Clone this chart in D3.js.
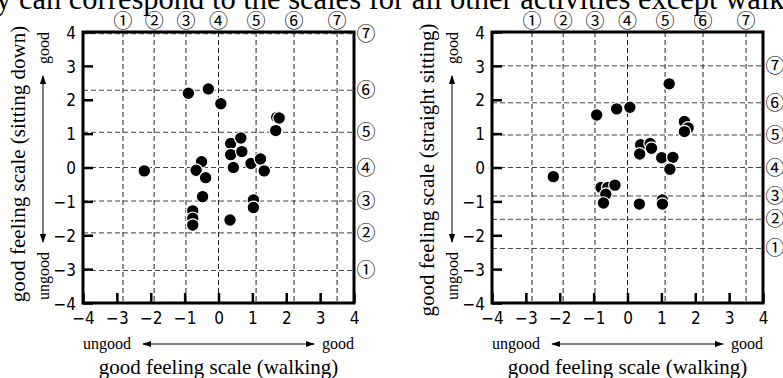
<!DOCTYPE html>
<html>
<head>
<meta charset="utf-8">
<script src="https://cdn.jsdelivr.net/npm/d3@7"></script>
<style>
  body { margin: 0; background: #fff; }
  svg { display: block; }
  .serif { font-family: "Liberation Serif", "DejaVu Serif", serif; fill: #000; }
  .tick text { font-family: "Liberation Sans Narrow", "DejaVu Sans Condensed", sans-serif; font-size: 17px; fill: #000; }
  .circ { font-family: "Noto Sans CJK JP", "DejaVu Sans", sans-serif; font-size: 19px; fill: #000; }
</style>
</head>
<body>
<svg id="chart" width="783" height="378"></svg>
<script>
'use strict';

// scale ticks shared by both axes
var axisTicks = [-4, -3, -2, -1, 0, 1, 2, 3, 4];
var levelLabels = ['①', '②', '③', '④', '⑤', '⑥', '⑦'];

// where the 7-step scales fall on the continuous scale
var walkLevels = [-2.82, -1.90, -0.96, 0, 1.11, 2.23, 3.50];
var sitDownLevels = [-3.04, -1.93, -0.99, 0, 1.04, 2.28, 3.95];
var straightLevels = [-2.39, -1.53, -0.84, 0, 0.96, 1.91, 3.00];

// [walking, sitting down]
var sitDownPoints = [
  [-2.19, -0.10], [-0.89, 2.19], [-0.30, 2.32], [0.07, 1.88],
  [1.72, 1.48], [1.79, 1.46], [1.69, 1.09],
  [0.36, 0.71], [0.66, 0.87], [0.36, 0.38], [0.69, 0.47],
  [-0.50, 0.17], [-0.66, -0.08], [0.44, 0.00], [0.96, 0.12],
  [1.24, 0.25], [1.35, -0.10], [-0.38, -0.30], [-0.47, -0.86],
  [1.03, -0.96], [1.03, -1.18], [0.34, -1.55],
  [-0.76, -1.28], [-0.76, -1.50], [-0.76, -1.70]
];

// [walking, straight sitting]
var straightPoints = [
  [-2.19, -0.27], [1.23, 2.47], [-0.91, 1.55], [-0.32, 1.73], [0.07, 1.78],
  [1.68, 1.36], [1.79, 1.17], [1.68, 1.06],
  [0.39, 0.67], [0.67, 0.71], [0.71, 0.57], [0.36, 0.40],
  [1.01, 0.29], [1.34, 0.30], [1.25, -0.05],
  [-0.78, -0.59], [-0.58, -0.59], [-0.37, -0.52], [-0.64, -0.79], [-0.71, -1.05],
  [0.35, -1.08], [1.03, -0.96], [1.03, -1.08]
];

var svg = d3.select('#chart');

// caption line cut by the top of the picture
svg.append('text')
  .attr('class', 'serif')
  .attr('x', -4)
  .attr('y', 9)
  .style('font-size', '30.5px')
  .text('y can correspond to the scales for all other activities except walking');

function drawPanel(opt) {
  var x = d3.scaleLinear().domain([-4, 4]).range([opt.left, opt.left + 271]);
  var y = d3.scaleLinear().domain([-4, 4]).range([303, 32]);
  var g = svg.append('g');

  // dashed guide lines for the 7-step scales
  g.selectAll('.vgrid')
    .data(walkLevels)
    .enter().append('line')
    .attr('x1', function (d) { return x(d); })
    .attr('x2', function (d) { return x(d); })
    .attr('y1', y(4))
    .attr('y2', y(-4))
    .attr('stroke', '#222')
    .attr('stroke-dasharray', '5,3');

  g.selectAll('.hgrid')
    .data(opt.levels)
    .enter().append('line')
    .attr('x1', x(-4))
    .attr('x2', x(4))
    .attr('y1', function (d) { return y(d); })
    .attr('y2', function (d) { return y(d); })
    .attr('stroke', '#444')
    .attr('stroke-dasharray', '5,3');

  // circled labels, top and right
  g.selectAll('.toplab')
    .data(walkLevels)
    .enter().append('text')
    .attr('class', 'circ')
    .attr('x', function (d) { return x(d); })
    .attr('y', 28)
    .attr('text-anchor', 'middle')
    .text(function (d, i) { return levelLabels[i]; });

  g.selectAll('.rightlab')
    .data(opt.levels)
    .enter().append('text')
    .attr('class', 'circ')
    .attr('x', x(4) + 12)
    .attr('y', function (d) { return y(d) + 7; })
    .attr('text-anchor', 'middle')
    .text(function (d, i) { return levelLabels[i]; });

  // axes with inward ticks
  var xAxis = g.append('g')
    .attr('transform', 'translate(0,' + y(-4) + ')')
    .call(d3.axisBottom(x).tickValues(axisTicks).tickSize(-10).tickPadding(9));
  var yAxis = g.append('g')
    .attr('transform', 'translate(' + x(-4) + ',0)')
    .call(d3.axisLeft(y).tickValues(axisTicks).tickSize(-10).tickPadding(7));
  [xAxis, yAxis].forEach(function (a) {
    a.select('.domain').remove();
    a.selectAll('.tick line').attr('stroke', '#000').attr('stroke-width', 2.5);
  });
  yAxis.selectAll('.tick text').attr('dy', '0.36em');

  // frame
  g.append('rect')
    .attr('x', x(-4))
    .attr('y', y(4))
    .attr('width', x(4) - x(-4))
    .attr('height', y(-4) - y(4))
    .attr('fill', 'none')
    .attr('stroke', '#000')
    .attr('stroke-width', 3);

  // points
  g.selectAll('.dot')
    .data(opt.points)
    .enter().append('circle')
    .attr('cx', function (d) { return x(d[0]); })
    .attr('cy', function (d) { return y(d[1]); })
    .attr('r', 6.3)
    .attr('fill', '#000')
    .attr('stroke', '#fff')
    .attr('stroke-width', 1.2);

  // y title and good/ungood arrow
  g.append('text')
    .attr('class', 'serif')
    .attr('transform', 'translate(' + (opt.left - 58) + ',' + opt.titleY + ') rotate(-90)')
    .attr('text-anchor', 'middle')
    .style('font-size', '21px')
    .text(opt.yTitle);

  var ax = opt.left - 40;
  g.append('text')
    .attr('class', 'serif')
    .attr('transform', 'translate(' + (ax + 6) + ',48) rotate(-90)')
    .attr('text-anchor', 'middle')
    .style('font-size', '16px')
    .text('good');
  g.append('text')
    .attr('class', 'serif')
    .attr('transform', 'translate(' + (ax + 6) + ',276) rotate(-90)')
    .attr('text-anchor', 'middle')
    .style('font-size', '16px')
    .text('ungood');
  g.append('line')
    .attr('x1', ax).attr('x2', ax)
    .attr('y1', 76).attr('y2', 242)
    .attr('stroke', '#000')
    .attr('marker-start', 'url(#head)')
    .attr('marker-end', 'url(#head)');

  // x title and arrow
  g.append('text')
    .attr('class', 'serif')
    .attr('x', x(-4))
    .attr('y', 349)
    .style('font-size', '16px')
    .text('ungood');
  g.append('text')
    .attr('class', 'serif')
    .attr('x', x(4))
    .attr('y', 349)
    .attr('text-anchor', 'end')
    .style('font-size', '16px')
    .text('good');
  g.append('line')
    .attr('x1', x(-4) + 60).attr('x2', x(4) - 40)
    .attr('y1', 344).attr('y2', 344)
    .attr('stroke', '#000')
    .attr('marker-start', 'url(#head)')
    .attr('marker-end', 'url(#head)');

  g.append('text')
    .attr('class', 'serif')
    .attr('x', x(0))
    .attr('y', 374)
    .attr('text-anchor', 'middle')
    .style('font-size', '21px')
    .text('good feeling scale (walking)');
}

svg.append('defs').append('marker')
  .attr('id', 'head')
  .attr('viewBox', '0 0 10 10')
  .attr('refX', 9)
  .attr('refY', 5)
  .attr('markerWidth', 9)
  .attr('markerHeight', 9)
  .attr('markerUnits', 'userSpaceOnUse')
  .attr('orient', 'auto-start-reverse')
  .append('path')
  .attr('d', 'M0,1.5L10,5L0,8.5Z')
  .attr('fill', '#000');

drawPanel({ left: 83, levels: sitDownLevels, points: sitDownPoints,
  yTitle: 'good feeling scale (sitting down)', titleY: 164 });
drawPanel({ left: 492, levels: straightLevels, points: straightPoints,
  yTitle: 'good feeling scale (straight sitting)', titleY: 170 });
</script>
</body>
</html>
